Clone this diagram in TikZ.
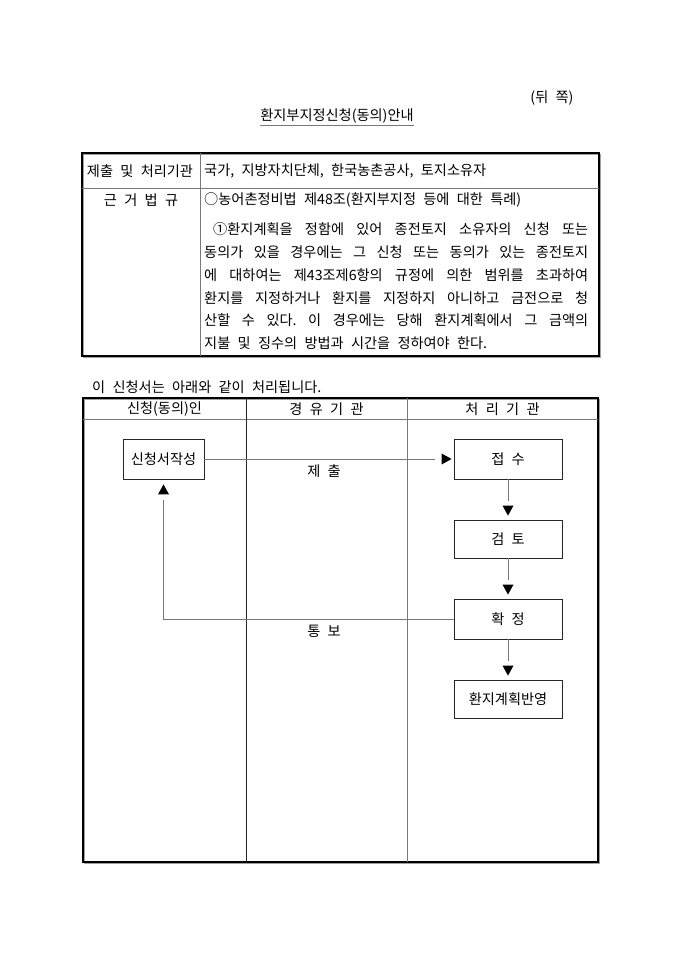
\documentclass[tikz,border=0pt]{standalone}
\usepackage{fontspec}
\setmainfont[WordSpace=2.3]{Noto Sans CJK KR}
\usetikzlibrary{calc}
\definecolor{linegray}{RGB}{120,120,120}
\definecolor{shadowgray}{RGB}{160,160,160}
\frenchspacing
\begin{document}
\begin{tikzpicture}[x=1pt,y=-1pt,
  every node/.style={inner sep=0pt, font=\fontsize{14.2}{16}\selectfont},
  box/.style={draw=black!85, line width=0.8pt, minimum width=108pt, minimum height=40pt},
  conn/.style={draw=linegray, line width=0.9pt},
  tipfill/.style={fill=black},
  frame/.style={line width=1.2pt},
  shadow/.style={draw=shadowgray, line width=1.2pt},
  inner/.style={draw=linegray, line width=0.8pt},
  innerdark/.style={draw=black!85, line width=0.8pt}]
\useasboundingbox[fill=white] (0,0) rectangle (680,962);

% heading
\node (back) at (552,98) {(뒤 쪽)};
\node (title) at (337,116) {환지부지정신청(동의)안내};
\draw[linegray, line width=0.8pt] ([yshift=-1.5pt]title.south west) -- ([yshift=-1.5pt]title.south east);

% top table
\draw[shadow] (83.5,154.5) rectangle (600.5,357.5);
\draw[frame] (82,153) rectangle (599,356);
\draw[inner] (82,188) -- (599,188);
\draw[inner] (200,153) -- (200,356);

\node (h1) at (140,171) {제출 및 처리기관};
\node[anchor=west] (v1) at (204,171) {국가, 지방자치단체, 한국농촌공사, 토지소유자};
\node (h2) at (141,200) {근 거 법 규};
\node[anchor=west] (v2) at (204,200) {○농어촌정비법 제48조(환지부지정 등에 대한 특례)};
\node[anchor=west] (p1) at (213,229) {\makebox[375pt][s]{①환지계획을 정함에 있어 종전토지 소유자의 신청 또는}};
\node[anchor=west] (p2) at (204,252) {\makebox[384pt][s]{동의가 있을 경우에는 그 신청 또는 동의가 있는 종전토지}};
\node[anchor=west] (p3) at (204,275) {\makebox[384pt][s]{에 대하여는 제43조제6항의 규정에 의한 범위를 초과하여}};
\node[anchor=west] (p4) at (204,298) {\makebox[384pt][s]{환지를 지정하거나 환지를 지정하지 아니하고 금전으로 청}};
\node[anchor=west] (p5) at (204,320) {\makebox[384pt][s]{산할 수 있다. 이 경우에는 당해 환지계획에서 그 금액의}};
\node[anchor=west] (p6) at (204,343) {지불 및 징수의 방법과 시간을 정하여야 한다.};

% intro line
\node[anchor=west] (intro) at (92,387) {이 신청서는 아래와 같이 처리됩니다.};

% bottom table
\draw[shadow] (84.5,399.5) rectangle (599.5,863.5);
\draw[frame] (83,398) rectangle (598,862);
\draw[inner] (83,419) -- (598,419);
\draw[innerdark] (246,398) -- (246,862);
\draw[inner] (407,398) -- (407,862);

\node (c1) at (164.5,409) {신청(동의)인};
\node (c2) at (326.5,409) {경 유 기 관};
\node (c3) at (502.5,409) {처 리 기 관};

% boxes
\node[box, minimum width=81pt] (A) at (163.5,459) {신청서작성};
\node[box] (B) at (508,459) {접 수};
\node[box, minimum height=38pt] (C) at (508,539) {검 토};
\node[box] (D) at (508,619) {확 정};
\node[box, minimum height=38pt] (E) at (508,699) {환지계획반영};

% connectors
\draw[conn, shorten >=19pt] (A.east) -- (B.west);
\fill[tipfill] ([xshift=-2pt]B.west) -- ++(-10,-5.5) -- ++(0,11) -- cycle;
\node (sub) at (324,471) {제 출};

\draw[conn, shorten >=19pt] (B.south) -- (C.north);
\fill[tipfill] ([yshift=4pt]C.north) -- ++(-5.5,-10) -- ++(11,0) -- cycle;

\draw[conn, shorten >=19pt] (C.south) -- (D.north);
\fill[tipfill] ([yshift=4pt]D.north) -- ++(-5.5,-10) -- ++(11,0) -- cycle;

\draw[conn, shorten >=19pt] (D.south) -- (E.north);
\fill[tipfill] ([yshift=4pt]E.north) -- ++(-5.5,-10) -- ++(11,0) -- cycle;

\draw[conn] (D.west) -- (A.south |- D.west) -- ([yshift=-21pt]A.south);
\fill[tipfill] ([yshift=-5pt]A.south) -- ++(-5.5,10) -- ++(11,0) -- cycle;
\node (noti) at (324,631) {통 보};
\end{tikzpicture}
\end{document}
